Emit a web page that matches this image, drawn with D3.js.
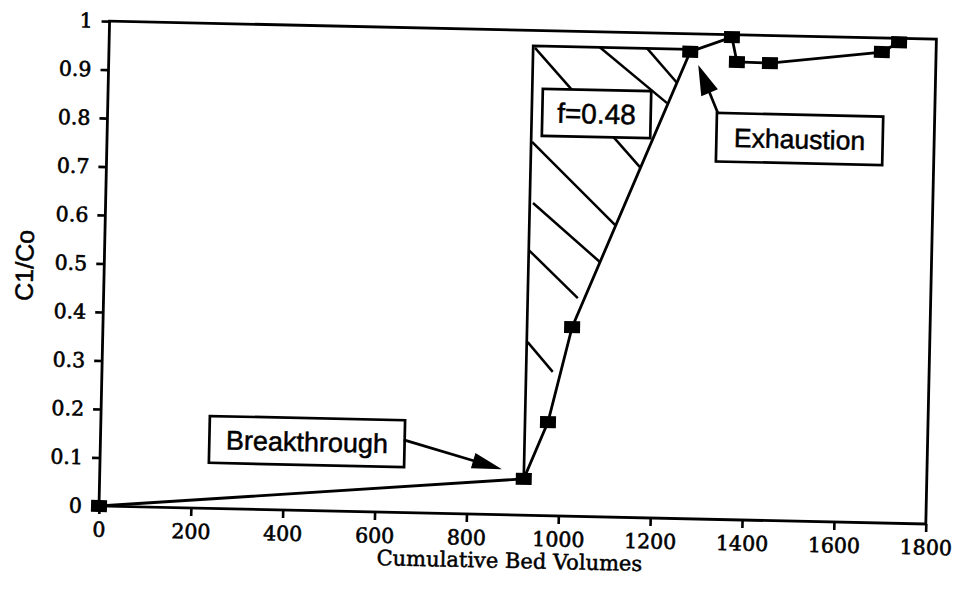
<!DOCTYPE html>
<html>
<head>
<meta charset="utf-8">
<script src="https://cdn.jsdelivr.net/npm/d3@7"></script>
<style>
  html, body { margin: 0; padding: 0; background: #fff; }
  svg { display: block; }
</style>
</head>
<body>
<svg id="chart" width="958" height="589"></svg>
<script>
// Breakthrough curve: effluent / influent concentration vs cumulative bed volumes
const bedVolumes = [0, 923, 973, 1021, 1265, 1355, 1367, 1439, 1682, 1719];
const concRatio  = [0, 0.075, 0.193, 0.39, 0.963, 0.995, 0.944, 0.943, 0.971, 0.992];

const xTicks = [0, 200, 400, 600, 800, 1000, 1200, 1400, 1600, 1800];
const yTicks = [0, 0.1, 0.2, 0.3, 0.4, 0.5, 0.6, 0.7, 0.8, 0.9, 1];
const yTickLabels = ["0", "0.1", "0.2", "0.3", "0.4", "0.5", "0.6", "0.7", "0.8", "0.9", "1"];

// Shaded (unused capacity) zone between breakthrough and exhaustion
const hatchTop = 0.968;
const hatchLines = [
  [927, 0.964, 1161, 0.723],
  [1068, 0.968, 1217, 0.856],
  [1171, 0.968, 1238, 0.898],
  [925, 0.770, 1110, 0.602],
  [930, 0.644, 1079, 0.525],
  [923, 0.547, 1032, 0.450],
  [925, 0.357, 981, 0.297]
];

// Callout boxes [x0, x1, yLow, yHigh] and arrows [fromX, fromY, tipX, tipY]
const fBox = { text: "f=0.48", box: [946, 1182, 0.783, 0.880] };
const breakBox = { text: "Breakthrough", box: [237, 662, 0.094, 0.1905], arrow: [660, 0.150, 875, 0.094] };
const exhBox = { text: "Exhaustion", box: [1326, 1688, 0.738, 0.838], arrow: [1328, 0.838, 1283, 0.936] };

const frameW = 827, frameH = 485;
const svg = d3.select("#chart");
const g = svg.append("g")
  .attr("transform", `translate(99,506) rotate(1.25) translate(0,${-frameH})`);

const x = d3.scaleLinear().domain([0, 1800]).range([0, frameW]);
const y = d3.scaleLinear().domain([0, 1]).range([frameH, 0]);

const serif = "'DejaVu Serif', serif";
const sans = "'Liberation Sans', Arial, sans-serif";
const ink = "#000";

// Axes
const xAxis = g.append("g")
  .attr("transform", `translate(0,${frameH})`)
  .call(d3.axisBottom(x).tickValues(xTicks).tickSize(8).tickPadding(8).tickFormat(d3.format("d")));
const yAxis = g.append("g")
  .call(d3.axisLeft(y).tickValues(yTicks).tickSize(8).tickPadding(9)
    .tickFormat((d, i) => yTickLabels[i]));
[xAxis, yAxis].forEach(a => {
  a.select(".domain").remove();
  a.selectAll(".tick line").attr("stroke", ink).attr("stroke-width", 2.6);
  a.selectAll(".tick text").attr("fill", ink)
    .attr("stroke", ink).attr("stroke-width", 0.6)
    .style("font-family", serif).style("font-size", "20.5px");
});

// Plot frame
g.append("rect")
  .attr("x", 0).attr("y", 0).attr("width", frameW).attr("height", frameH)
  .attr("fill", "none").attr("stroke", ink).attr("stroke-width", 2.8);

// Hatching
g.append("g").selectAll("line").data(hatchLines).join("line")
  .attr("x1", d => x(d[0])).attr("y1", d => y(d[1]))
  .attr("x2", d => x(d[2])).attr("y2", d => y(d[3]))
  .attr("stroke", ink).attr("stroke-width", 2.5);

// Zone boundary: vertical at breakthrough, horizontal to exhaustion
g.append("path")
  .attr("d", d3.line()([
    [x(bedVolumes[1]), y(concRatio[1])],
    [x(bedVolumes[1]), y(hatchTop)],
    [x(bedVolumes[4]), y(hatchTop)]
  ]))
  .attr("fill", "none").attr("stroke", ink).attr("stroke-width", 2.7);

// Data line
const pts = bedVolumes.map((v, i) => [v, concRatio[i]]);
g.append("path")
  .datum(pts)
  .attr("d", d3.line().x(d => x(d[0])).y(d => y(d[1])))
  .attr("fill", "none").attr("stroke", ink).attr("stroke-width", 2.8);

// Markers
g.append("g").selectAll("rect").data(pts).join("rect")
  .attr("x", d => x(d[0]) - 8).attr("y", d => y(d[1]) - 6)
  .attr("width", 16).attr("height", 12)
  .attr("fill", ink);

// Callouts
function callout(c, size) {
  const [x0, x1, yl, yh] = c.box;
  g.append("rect")
    .attr("x", x(x0)).attr("y", y(yh))
    .attr("width", x(x1) - x(x0)).attr("height", y(yl) - y(yh))
    .attr("fill", "#fff").attr("stroke", ink).attr("stroke-width", 2.7);
  g.append("text")
    .attr("x", (x(x0) + x(x1)) / 2).attr("y", (y(yl) + y(yh)) / 2)
    .attr("dy", "0.36em").attr("text-anchor", "middle")
    .attr("stroke", ink).attr("stroke-width", 0.5)
    .style("font-family", sans).style("font-size", size + "px").attr("fill", ink)
    .text(c.text);
}
function arrow(a, len, half) {
  const sx = x(a[0]), sy = y(a[1]), tx = x(a[2]), ty = y(a[3]);
  const dx = tx - sx, dy = ty - sy, L = Math.hypot(dx, dy);
  const ux = dx / L, uy = dy / L;
  const bx = tx - ux * len, by = ty - uy * len;
  g.append("line")
    .attr("x1", sx).attr("y1", sy).attr("x2", bx + ux * 4).attr("y2", by + uy * 4)
    .attr("stroke", ink).attr("stroke-width", 2.7);
  g.append("path")
    .attr("d", d3.line()([[tx, ty], [bx - uy * half, by + ux * half], [bx + uy * half, by - ux * half]]) + "Z")
    .attr("fill", ink);
}
callout(fBox, 28);
callout(breakBox, 27);
callout(exhBox, 26.5);
arrow(breakBox.arrow, 30, 8);
arrow(exhBox.arrow, 30, 9);

// Axis titles
g.append("text")
  .attr("x", frameW / 2 - 2).attr("y", frameH + 53)
  .attr("text-anchor", "middle")
  .attr("stroke", ink).attr("stroke-width", 0.5)
  .style("font-family", serif).style("font-size", "21px").attr("fill", ink)
  .text("Cumulative Bed Volumes");
g.append("text")
  .attr("transform", `translate(-71,246) rotate(-90)`)
  .attr("text-anchor", "middle")
  .attr("stroke", ink).attr("stroke-width", 0.5)
  .style("font-family", sans).style("font-size", "25px").attr("fill", ink)
  .text("C1/Co");
</script>
</body>
</html>
